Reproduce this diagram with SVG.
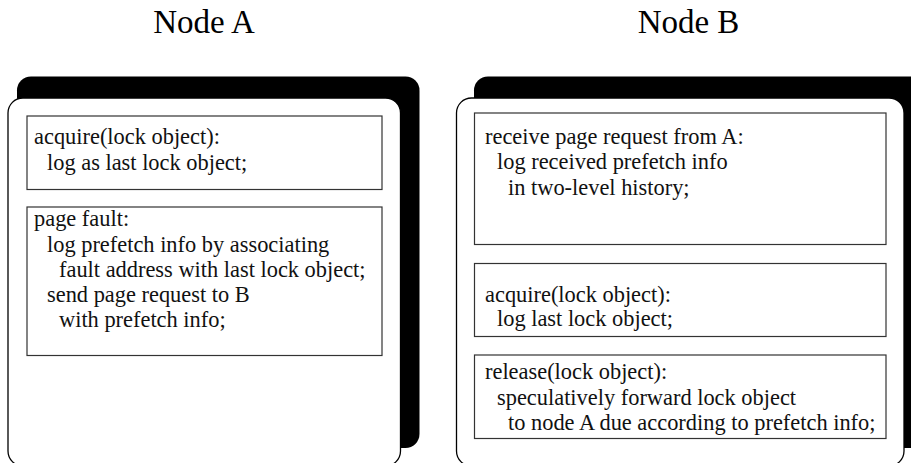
<svg xmlns="http://www.w3.org/2000/svg" width="911" height="463" viewBox="0 0 911 463">
<style>
.title{font-family:"Liberation Serif","Times New Roman",serif;font-size:33px;fill:#000;text-anchor:middle}
.t{font-family:"Liberation Serif","Times New Roman",serif;font-size:22.4px;fill:#111}
.shadow{fill:#000}
.frame{fill:#fff;stroke:#000;stroke-width:1.3}
.box{fill:#fff;stroke:#333;stroke-width:1.2}
</style>
<rect width="911" height="463" fill="#fff"/>
<g id="connectors"/>
<g id="nodeA">
  <text class="title" x="204" y="33">Node A</text>
  <rect class="shadow" x="17" y="76.5" width="402.5" height="371.5" rx="14"/>
  <rect class="frame" x="8" y="98" width="392.5" height="368" rx="15"/>
  <g id="A-acquire">
    <rect class="box" x="27" y="116" width="355" height="73.5"/>
    <text class="t" x="34" y="144">acquire(lock object):</text>
    <text class="t" x="47" y="170">log as last lock object;</text>
  </g>
  <g id="A-pagefault">
    <rect class="box" x="27" y="207" width="355" height="148.5"/>
    <text class="t" x="34" y="226">page fault:</text>
    <text class="t" x="47" y="251.5">log prefetch info by associating</text>
    <text class="t" x="59" y="277">fault address with last lock object;</text>
    <text class="t" x="47" y="302">send page request to B</text>
    <text class="t" x="59" y="327">with prefetch info;</text>
  </g>
</g>
<g id="nodeB">
  <text class="title" x="688.5" y="33">Node B</text>
  <rect class="shadow" x="474" y="76.5" width="450" height="371.5" rx="14"/>
  <rect class="frame" x="456.5" y="98" width="447.5" height="368" rx="15"/>
  <g id="B-receive">
    <rect class="box" x="474.5" y="113" width="411.5" height="131.5"/>
    <text class="t" x="485" y="143.5">receive page request from A:</text>
    <text class="t" x="497" y="169">log received prefetch info</text>
    <text class="t" x="508" y="194.5">in two-level history;</text>
  </g>
  <g id="B-acquire">
    <rect class="box" x="474.5" y="263.5" width="411.5" height="73"/>
    <text class="t" x="485" y="301.5">acquire(lock object):</text>
    <text class="t" x="497" y="326">log last lock object;</text>
  </g>
  <g id="B-release">
    <rect class="box" x="474.5" y="355" width="411.5" height="83.5"/>
    <text class="t" x="485" y="379">release(lock object):</text>
    <text class="t" x="497" y="405">speculatively forward lock object</text>
    <text class="t" x="508" y="430">to node A due according to prefetch info;</text>
  </g>
</g>
</svg>
